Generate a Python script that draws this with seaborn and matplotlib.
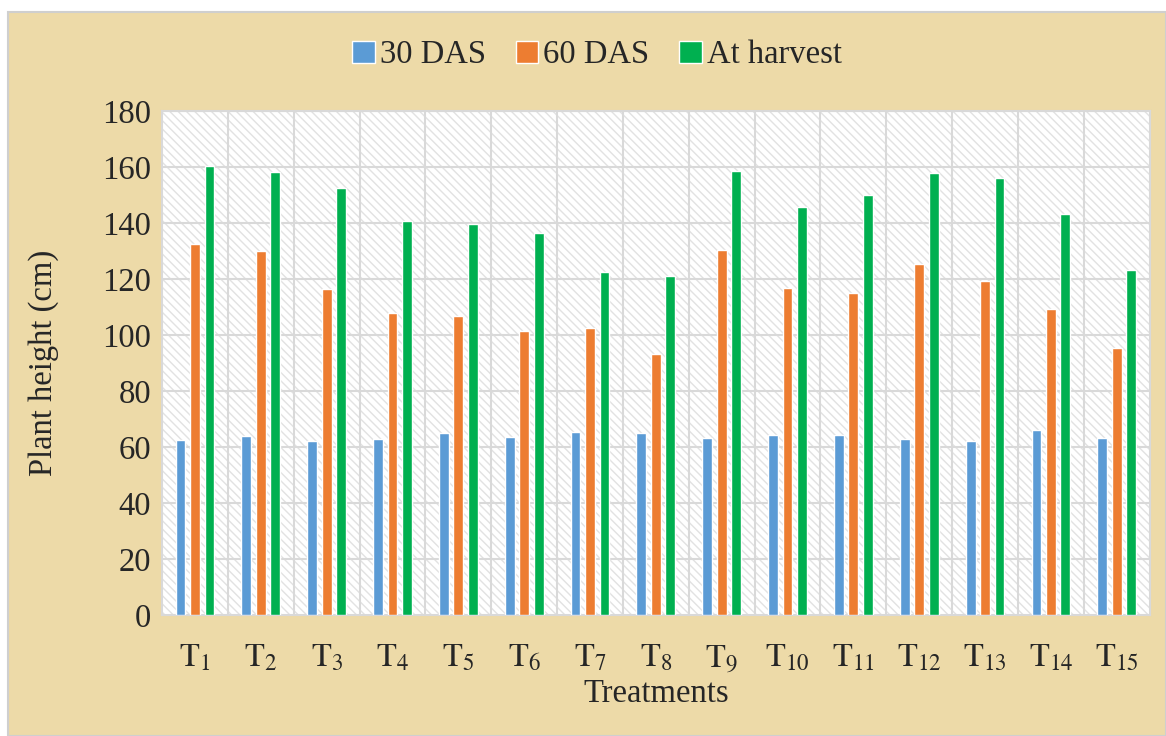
import matplotlib
matplotlib.use('Agg')
import matplotlib.pyplot as plt
import seaborn as sns
import pandas as pd
from matplotlib.patches import Rectangle

treatments = [f"T{i}" for i in range(1, 16)]
das30 = [62.5, 64.0, 62.1, 62.9, 65.0, 63.6, 65.4, 65.0, 63.4, 64.2, 64.2, 63.0, 62.3, 66.0, 63.2]
das60 = [132.4, 130.0, 116.4, 107.9, 106.8, 101.4, 102.5, 93.2, 130.3, 116.7, 114.9, 125.5, 119.5, 109.4, 95.4]
harvest = [160.4, 158.4, 152.4, 140.6, 139.6, 136.4, 122.5, 121.1, 158.8, 145.9, 150.1, 158.0, 156.2, 143.3, 123.2]
series = ["30 DAS", "60 DAS", "At harvest"]
colors = ["#5B9BD5", "#ED7D31", "#00B050"]

df = pd.DataFrame({"Treatment": treatments * 3,
                   "Series": [s for s in series for _ in treatments],
                   "Height": das30 + das60 + harvest})

sns.set_theme(style="white")
plt.rcParams.update({"font.family": ["Liberation Serif", "DejaVu Serif"],
                     "mathtext.fontset": "stix"})

PARCH = "#EDDAA8"
GRID = "#D9D9D9"
FS = 23.5

fig = plt.figure(figsize=(11.66, 7.36), dpi=100, facecolor="white")
fig.patches.append(Rectangle((8 / 1166, 0), 1 - 8 / 1166, 1 - 12 / 736,
                             transform=fig.transFigure, facecolor=PARCH,
                             edgecolor="#CFCFCF", linewidth=1.5, zorder=-10))
ax = fig.add_axes([0.139, 0.164, 0.847, 0.685])

# hatched white plot area
ax.set_facecolor("white")
ax.add_patch(Rectangle((0, 0), 1, 1, transform=ax.transAxes, facecolor="white",
                       edgecolor="#E2E2E2", hatch="\\\\\\\\", linewidth=0, zorder=0))

sns.barplot(data=df, x="Treatment", y="Height", hue="Series", palette=colors,
            saturation=1, width=0.66, gap=0.32, ax=ax, zorder=3, legend=True)

ax.set_ylim(0, 180)
ax.set_yticks(range(0, 181, 20))
ax.set_xlim(-0.5, 14.5)
ax.set_xticks(range(15))
ax.set_xticklabels([rf"$\mathrm{{T}}_{{{i}}}$" for i in range(1, 16)], fontsize=FS)
ax.tick_params(axis="y", labelsize=FS, length=0, pad=8)
ax.tick_params(axis="x", length=0, pad=20)
for v in range(20, 181, 20):
    ax.axhline(v, color=GRID, linewidth=1.5, zorder=1)
for x in [i + 0.5 for i in range(14)]:
    ax.axvline(x, color=GRID, linewidth=1.5, zorder=1)
for s in ax.spines.values():
    s.set_color(GRID)
    s.set_linewidth(1.5)

ax.set_xlabel("Treatments", fontsize=FS, labelpad=2)
ax.set_ylabel("Plant height (cm)", fontsize=FS, labelpad=31)

handles, labels = ax.get_legend_handles_labels()
ax.legend(handles, labels, loc="center", bbox_to_anchor=(0.512, 0.925),
          bbox_transform=fig.transFigure, ncol=3, frameon=False, fontsize=FS,
          handlelength=0.7, handleheight=0.7, handletextpad=0.15,
          columnspacing=0.9)

fig.savefig("out.png", dpi=100, facecolor="white")
